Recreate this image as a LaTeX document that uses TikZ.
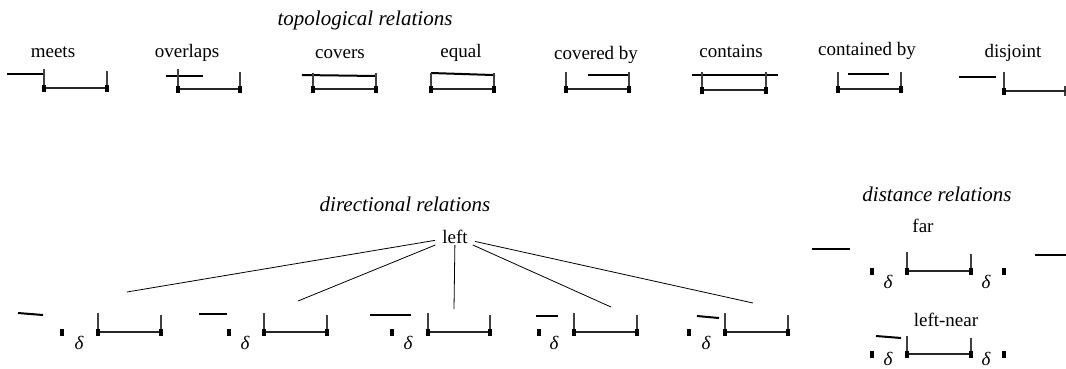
\documentclass[tikz,border=0pt]{standalone}
\usepackage{fontspec}
\setmainfont{Liberation Serif}
\newcommand\relint[5]{% left x, right x, base y, left tick top, right tick top
  \draw[tick] (#1,#4) -- (#1,#3);
  \draw[tick] (#2,#5) -- (#2,#3);
  \draw[baseline] (#1,#3) -- (#2,#3);
  \fill[endsq] (#1-2.3,#3-3.5) rectangle (#1+2.3,#3+3.5);
  \fill[endsq] (#2-2.3,#3-3.5) rectangle (#2+2.3,#3+3.5);
}
\newcommand\dmark[2]{\fill[endsq] (#1-2.3,#2-3.5) rectangle (#1+2.3,#2+3.5);}
\begin{document}
\begin{tikzpicture}[x=1pt,y=-1pt,
  lbl/.style={font=\fontsize{19}{19}\selectfont, inner sep=0pt, anchor=base},
  ttl/.style={font=\fontsize{21}{21}\selectfont\itshape, inner sep=0pt},
  dlt/.style={font=\fontsize{19}{19}\selectfont\itshape, inner sep=0pt},
  baseline/.style={line width=1.9pt, black!85},
  tick/.style={line width=1.1pt, black!75},
  probe/.style={line width=2pt, black},
  endsq/.style={fill=black},
  conn/.style={line width=0.8pt, black}]
\useasboundingbox (0,0) rectangle (1066,368);

% ---- topological relations ----
\node[ttl] (ttop) at (365,20) {topological relations};

\node[lbl] (lmeets) at (53,57) {meets};
\draw[probe] (7,74) -- (44,74);
\relint{44}{107}{88}{69}{71}

\node[lbl] (lover) at (187,57) {overlaps};
\draw[probe] (166,76) -- (203,76);
\relint{178}{240}{89}{69}{72}

\node[lbl] (lcovers) at (340,58) {covers};
\draw[probe] (302,75) -- (376,76);
\relint{313}{376}{89}{73}{73}

\node[lbl] (lequal) at (461,57) {equal};
\draw[probe] (431,73) -- (493,75);
\relint{431}{494}{89}{73}{73}

\node[lbl] (lcovby) at (596,59) {covered by};
\draw[probe] (588,75) -- (629,75);
\relint{566}{629}{89}{72}{72}

\node[lbl] (lcont) at (731,57) {contains};
\draw[probe] (692,75) -- (778,75);
\relint{702}{766}{90}{72}{72}

\node[lbl] (lcontby) at (867,55) {contained by};
\draw[probe] (848,74) -- (889,74);
\relint{838}{901}{89}{72}{72}

\node[lbl] (ldisj) at (1013,57) {disjoint};
\draw[probe] (959,77) -- (996,77);
\draw[tick] (1004,72) -- (1004,91);
\draw[tick] (1065,86) -- (1065,96);
\draw[baseline] (1004,91) -- (1066,91);
\dmark{1004}{91}

% ---- directional relations ----
\node[ttl] (tdir) at (405,204) {directional relations};
\node[font=\fontsize{19}{19}\selectfont, inner xsep=7pt, inner ysep=1pt] (left) at (455,237) {left};

\coordinate (d1) at (127,292);
\coordinate (d2) at (298,301);
\coordinate (d3) at (454,309);
\coordinate (d4) at (611,307);
\coordinate (d5) at (753,303);
\foreach \c in {d1,d2,d3,d4,d5} \draw[conn] (left) -- (\c);

\draw[probe] (18,313) -- (43,315);
\dmark{62}{332}
\node[dlt] at (79,343) {δ};
\relint{98}{161}{332}{313}{315}

\draw[probe] (199,314) -- (227,314);
\dmark{229}{332}
\node[dlt] at (245,343) {δ};
\relint{264}{327}{332}{313}{315}

\draw[probe] (370,315) -- (411,315);
\dmark{392}{332}
\node[dlt] at (408,343) {δ};
\relint{428}{490}{332}{313}{315}

\draw[probe] (536,316) -- (558,316);
\dmark{539}{332}
\node[dlt] at (554,343) {δ};
\relint{574}{637}{332}{313}{315}

\draw[probe] (697,316) -- (719,318);
\dmark{689}{332}
\node[dlt] at (706,343) {δ};
\relint{725}{788}{332}{313}{315}

% ---- distance relations ----
\node[ttl] (tdist) at (937,194) {distance relations};

\node[font=\fontsize{19}{19}\selectfont, inner sep=0pt] (lfar) at (923,226) {far};
\draw[probe] (812,249) -- (850,249);
\dmark{872}{271}
\node[dlt] at (888,282) {δ};
\relint{907}{971}{271}{252}{254}
\node[dlt] at (986,282) {δ};
\dmark{1004}{271}
\draw[probe] (1035,255) -- (1066,255);

\node[font=\fontsize{19}{19}\selectfont, inner sep=0pt] (lnear) at (946,320) {left-near};
\draw[probe] (876,336) -- (901,338);
\dmark{872}{354}
\node[dlt] at (888,359) {δ};
\relint{907}{971}{354}{336}{338}
\node[dlt] at (986,359) {δ};
\dmark{1004}{354}
\end{tikzpicture}
\end{document}
